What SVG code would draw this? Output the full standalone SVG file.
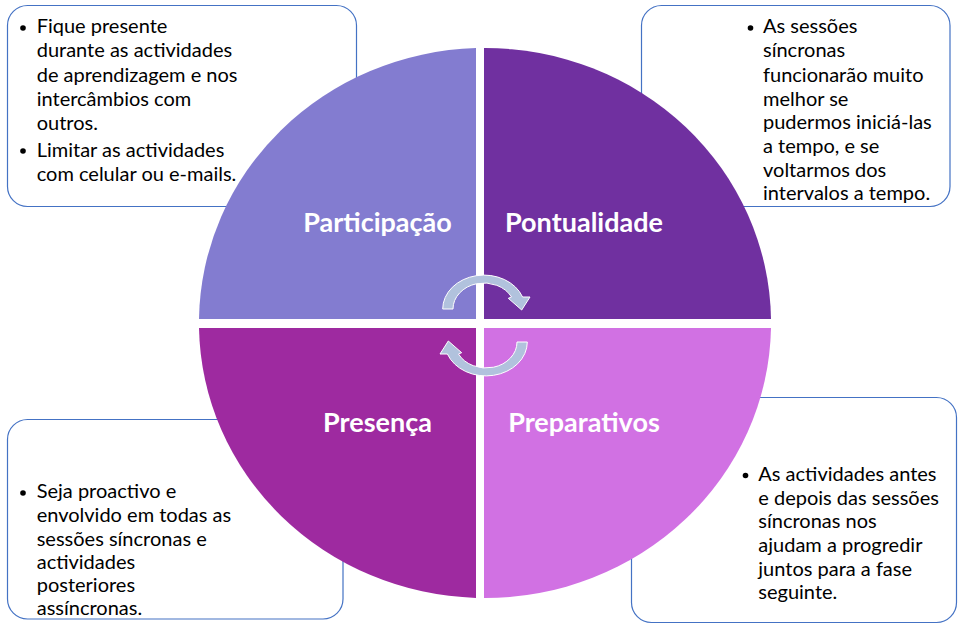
<svg xmlns="http://www.w3.org/2000/svg" width="961" height="627" viewBox="0 0 961 627">
<style>
.box{fill:#ffffff;stroke:#4472C4;stroke-width:1.2}
.txt{font-family:Lato,"Liberation Sans",sans-serif;font-size:20px;fill:#000000}
.lbl{font-family:Lato,"Liberation Sans",sans-serif;font-size:27px;font-weight:bold;fill:#ffffff;text-anchor:middle}
.bul{fill:#000000}
.arr{fill:#B1C2DD;stroke:#ffffff;stroke-width:1}
</style>
<rect width="961" height="627" fill="#ffffff"/>
<g id="box-participacao">
<rect class="box" x="7.5" y="5.5" width="349" height="201" rx="20"/>
<circle class="bul" cx="23" cy="28" r="2.8"/>
<text class="txt"><tspan x="36.7" y="33">Fique presente</tspan><tspan x="36.7" y="57">durante as actividades</tspan><tspan x="36.7" y="81.5">de aprendizagem e nos</tspan><tspan x="36.7" y="105.5">intercâmbios com</tspan><tspan x="36.7" y="129.5">outros.</tspan></text>
<circle class="bul" cx="23" cy="151" r="2.8"/>
<text class="txt"><tspan x="36.7" y="156.7">Limitar as actividades</tspan><tspan x="36.7" y="180.5">com celular ou e-mails.</tspan></text>
</g>
<g id="box-pontualidade">
<rect class="box" x="641.5" y="5.5" width="308.5" height="201" rx="20"/>
<circle class="bul" cx="750.5" cy="28" r="2.8"/>
<text class="txt"><tspan x="763" y="33.3">As sessões</tspan><tspan x="763" y="57.3">síncronas</tspan><tspan x="763" y="81.5">funcionarão muito</tspan><tspan x="763" y="105.5">melhor se</tspan><tspan x="763" y="129.3">pudermos iniciá-las</tspan><tspan x="763" y="152.7">a tempo, e se</tspan><tspan x="763" y="176.7">voltarmos dos</tspan><tspan x="763" y="200">intervalos a tempo.</tspan></text>
</g>
<g id="box-presenca">
<rect class="box" x="7.5" y="419.5" width="335.5" height="199.5" rx="20"/>
<circle class="bul" cx="23" cy="493" r="2.8"/>
<text class="txt"><tspan x="36.7" y="498.3">Seja proactivo e</tspan><tspan x="36.7" y="522">envolvido em todas as</tspan><tspan x="36.7" y="545.5">sessões síncronas e</tspan><tspan x="36.7" y="569">actividades</tspan><tspan x="36.7" y="592">posteriores</tspan><tspan x="36.7" y="615">assíncronas.</tspan></text>
</g>
<g id="box-preparativos">
<rect class="box" x="631.5" y="397.5" width="325" height="225" rx="20"/>
<circle class="bul" cx="745.5" cy="475.5" r="2.8"/>
<text class="txt"><tspan x="758.3" y="481">As actividades antes</tspan><tspan x="758.3" y="504.7">e depois das sessões</tspan><tspan x="758.3" y="528.3">síncronas nos</tspan><tspan x="758.3" y="552">ajudam a progredir</tspan><tspan x="758.3" y="576">juntos para a fase</tspan><tspan x="758.3" y="599">seguinte.</tspan></text>
</g>
<g id="q-participacao">
<path d="M476 319 L199 319 A286 275 0 0 1 476 48.1 Z" fill="#837CD0"/>
<text class="lbl" x="377.5" y="232">Participação</text>
</g>
<g id="q-pontualidade">
<path d="M484 319 L484 48 A286 275 0 0 1 771 319 Z" fill="#7030A0"/>
<text class="lbl" x="584" y="232">Pontualidade</text>
</g>
<g id="q-presenca">
<path d="M476 328 L476 597.9 A286 275 0 0 1 199 328 Z" fill="#9E2AA0"/>
<text class="lbl" x="377.5" y="432">Presença</text>
</g>
<g id="q-preparativos">
<path d="M484 328 L771 328 A286 275 0 0 1 484 598 Z" fill="#D171E3"/>
<text class="lbl" x="584" y="432">Preparativos</text>
</g>
<g id="connectors">
<path class="arr" d="M442.7 309 A41.3 34 0 0 1 522.6 297 L530 297 L521.7 310 L508.3 298.3 L511.5 297 A31 26 0 0 0 453 309 Z"/>
<path class="arr" transform="rotate(180 485 325.5)" d="M442.7 309 A41.3 34 0 0 1 522.6 297 L530 297 L521.7 310 L508.3 298.3 L511.5 297 A31 26 0 0 0 453 309 Z"/>
</g>
</svg>
